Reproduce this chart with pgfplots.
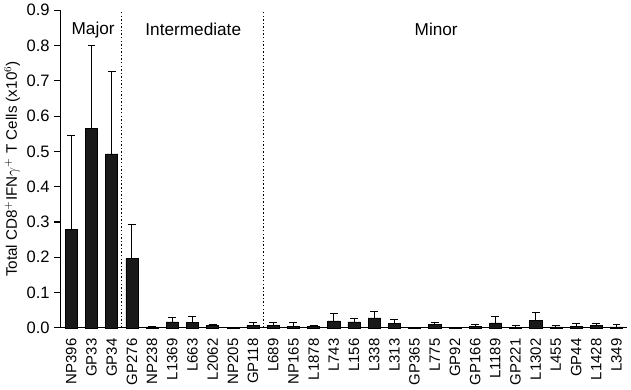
\documentclass[border=0pt]{standalone}
\usepackage{fontspec}
\setmainfont{Liberation Sans}
\usepackage{pgfplots}
\usepackage{pgfplotstable}
\pgfplotsset{compat=1.18}
\pgfplotstableread{
x y err
0 0.278 0.267
1 0.565 0.235
2 0.493 0.234
3 0.197 0.096
4 0.003 0.001
5 0.017 0.012
6 0.015 0.017
7 0.006 0.005
8 0.001 0.0005
9 0.008 0.007
10 0.008 0.006
11 0.004 0.010
12 0.004 0.003
13 0.020 0.022
14 0.017 0.010
15 0.028 0.019
16 0.013 0.012
17 0.001 0.0005
18 0.009 0.006
19 0.001 0.0005
20 0.004 0.006
21 0.014 0.018
22 0.002 0.004
23 0.022 0.022
24 0.003 0.004
25 0.004 0.008
26 0.006 0.006
27 0.003 0.006
}\datatable
\begin{document}
\begin{tikzpicture}
\begin{axis}[
  scale only axis,
  width=428pt, height=240pt,
  xmin=-0.55, xmax=27.5,
  ymin=0, ymax=0.9,
  axis lines*=left,
  axis line style={line width=0.8pt},
  ytick={0,0.1,...,0.9},
  yticklabel style={font=\fontsize{12.5}{14}\selectfont, /pgf/number format/fixed, /pgf/number format/fixed zerofill, /pgf/number format/precision=1},
  /pgf/number format/assume math mode=true,
  xtick={0,...,27},
  xticklabels={NP396,GP33,GP34,GP276,NP238,L1369,L663,L2062,NP205,GP118,L689,NP165,L1878,L743,L156,L338,L313,GP365,L775,GP92,GP166,L1189,GP221,L1302,L455,GP44,L1428,L349},
  xticklabel style={rotate=90, anchor=east, font=\fontsize{11.3}{13}\selectfont},
  major x tick style={draw=none},
  extra x ticks={0.5,1.5,...,27.5},
  extra x tick labels={},
  extra x tick style={major tick length=4.5pt, tick style={line width=0.8pt, draw=black}},
  tick align=outside,
  major tick length=4.5pt,
  tick style={line width=0.8pt, black},
  ylabel={Total CD8$^{+}$IFN$\gamma^{+}$ T Cells (x10$^{6}$)},
  ylabel style={font=\fontsize{11.5}{13}\selectfont, yshift=-2pt},
  clip=false,
]
\addplot[ybar, bar width=0.6, bar shift=0pt, fill=black!90, draw=black,
  error bars/.cd, y dir=plus, y explicit,
  error bar style={line width=0.7pt, black},
  error mark options={rotate=90, mark size=3pt, line width=0.7pt}]
  table[x=x, y=y, y error=err] {\datatable};
\draw[dash pattern=on 1.1pt off 1.6pt, line width=0.9pt] (axis cs:2.5,0) -- (axis cs:2.5,0.9);
\draw[dash pattern=on 1.1pt off 1.6pt, line width=0.9pt] (axis cs:9.5,0) -- (axis cs:9.5,0.9);
\node[font=\fontsize{13}{15}\selectfont] at (axis cs:1.08,0.845) {Major};
\node[font=\fontsize{13}{15}\selectfont] at (axis cs:6.04,0.845) {Intermediate};
\node[font=\fontsize{13}{15}\selectfont] at (axis cs:18.07,0.845) {Minor};
\end{axis}
\end{tikzpicture}
\end{document}
